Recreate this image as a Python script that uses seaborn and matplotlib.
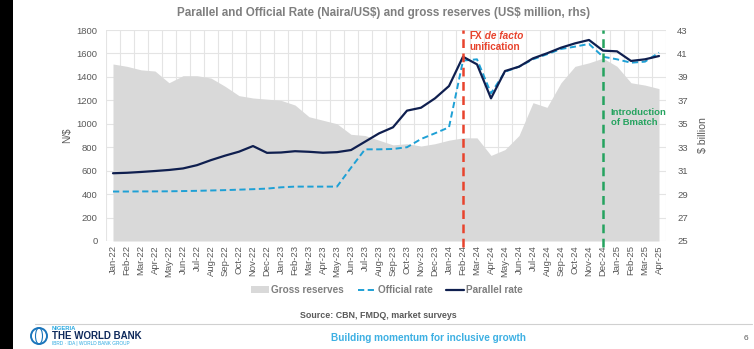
import numpy as np
import pandas as pd
import matplotlib
matplotlib.use("Agg")
import matplotlib.pyplot as plt
from matplotlib.patches import Patch, Rectangle, Ellipse
from matplotlib.lines import Line2D
import seaborn as sns

# ---- data -------------------------------------------------------------
months = ["Jan-22", "Feb-22", "Mar-22", "Apr-22", "May-22", "Jun-22", "Jul-22", "Aug-22",
          "Sep-22", "Oct-22", "Nov-22", "Dec-22", "Jan-23", "Feb-23", "Mar-23", "Apr-23",
          "May-23", "Jun-23", "Jul-23", "Aug-23", "Sep-23", "Oct-23", "Nov-23", "Dec-23",
          "Jan-24", "Feb-24", "Mar-24", "Apr-24", "May-24", "Jun-24", "Jul-24", "Aug-24",
          "Sep-24", "Oct-24", "Nov-24", "Dec-24", "Jan-25", "Feb-25", "Mar-25", "Apr-25"]

parallel_rate = [578, 582, 589, 597, 606, 619, 647, 690, 728, 762, 810, 752,
                 755, 766, 761, 753, 758, 776, 847, 918, 970, 1112, 1137, 1217,
                 1322, 1572, 1507, 1217, 1450, 1487, 1558, 1601, 1649, 1686, 1715, 1624,
                 1618, 1536, 1550, 1578]

official_rate = [422, 422, 423, 423, 424, 426, 428, 431, 434, 438, 442, 447,
                 458, 464, 464, 464, 464, 625, 782, 782, 785, 800, 870, 919,
                 970, 1539, 1550, 1260, 1444, 1487, 1550, 1593, 1638, 1658, 1681, 1572,
                 1550, 1521, 1530, 1607]

gross_reserves = [40.1, 39.9, 39.6, 39.5, 38.5, 39.1, 39.1, 38.9, 38.2, 37.4, 37.2, 37.1,
                  37.0, 36.6, 35.6, 35.3, 35.0, 34.1, 34.0, 33.6, 33.2, 33.3, 33.1, 33.3,
                  33.6, 33.8, 33.8, 32.3, 32.8, 34.0, 36.8, 36.4, 38.5, 39.9, 40.2, 40.6,
                  39.9, 38.5, 38.3, 38.0]

event_months = ["Feb-24", "Dec-24"]

left_ticks = list(range(0, 1801, 200))
right_ticks = list(range(25, 44, 2))

df = pd.DataFrame({"month": months, "pos": np.arange(len(months)),
                   "Parallel rate": parallel_rate, "Official rate": official_rate,
                   "Gross reserves": gross_reserves})

# ---- style ------------------------------------------------------------
sns.set_theme(style="white")
plt.rcParams["font.family"] = ["Liberation Sans", "DejaVu Sans"]

GREY_TXT = "#595959"
TITLE_GREY = "#7f7f7f"
AREA = "#d9d9d9"
NAVY = "#0f1f4f"
CYAN = "#1ea0d5"
RED = "#e8432d"
GREEN = "#25a35f"

W, H = 754, 349
fig = plt.figure(figsize=(W / 100, H / 100), dpi=100)
fig.patch.set_facecolor("white")

def fx(px):
    return px / W

def fy(py):
    return 1 - py / H

left, right, top, bottom = 106, 666, 30, 241
ax_r = fig.add_axes([fx(left), fy(bottom), fx(right - left), (bottom - top) / H])
ax = ax_r.twinx()
ax.yaxis.tick_left()
ax.yaxis.set_label_position("left")
ax_r.yaxis.tick_right()
ax_r.yaxis.set_label_position("right")
ax.set_zorder(ax_r.get_zorder() + 1)
ax.patch.set_visible(False)

# reserves area on the right-hand scale
ax_r.fill_between(df["pos"], 25, df["Gross reserves"], color=AREA, lw=0, zorder=1)
ax_r.set_ylim(25, 43)
ax_r.set_yticks(right_ticks)
ax_r.set_axisbelow(True)

# exchange rates on the left-hand scale
sns.lineplot(data=df, x="pos", y="Parallel rate", ax=ax, color=NAVY, lw=1.6, zorder=4)
sns.lineplot(data=df, x="pos", y="Official rate", ax=ax, color=CYAN, lw=1.4,
             dashes=False, zorder=3)
ax.lines[-1].set_dashes([3.2, 1.8])
ax.set_ylim(0, 1800)
ax.set_yticks(left_ticks)

# month axis (drawn by the lower axes; the twin hides its own x axis)
ax_r.set_xlim(-0.5, len(months) - 0.9)
ax_r.set_xticks(df["pos"])
ax_r.set_xticklabels(months, rotation=90)
ax_r.set_xticks(np.arange(-0.5, len(months), 1), minor=True)
ax_r.set_xlabel("")
ax.set_xlabel("")

# grid lives on the lower axes so the area covers it
ax_r.grid(True, axis="y", which="major", color="#e4e4e4", lw=0.8)
ax_r.grid(True, axis="x", which="minor", color="#e4e4e4", lw=0.8)
ax.grid(False)

for a in (ax, ax_r):
    for s in a.spines.values():
        s.set_visible(False)
    a.tick_params(length=0, which="both", colors=GREY_TXT, labelsize=6.8, pad=2)
ax_r.tick_params(axis="x", labelbottom=True, pad=3)
ax_r.tick_params(axis="y", pad=8)
ax.tick_params(axis="y", pad=6)

ax.set_ylabel("N/$", color=GREY_TXT, fontsize=7.2)
ax.yaxis.set_label_coords(-0.061, 0.5)
ax_r.set_ylabel("$ billion", color=GREY_TXT, fontsize=7.6, labelpad=7)

# event markers
i_fx = months.index(event_months[0])
i_bm = months.index(event_months[1])
ax.axvline(i_fx, ymin=-0.03, ymax=1, color=RED, lw=1.8, dashes=(3.5, 2.2), clip_on=False, zorder=5)
ax.axvline(i_bm, ymin=-0.03, ymax=1, color=GREEN, lw=1.8, dashes=(3.5, 2.2), clip_on=False, zorder=5)

fx_txt = ax.text(i_fx + 0.45, 1745, "FX", color=RED, fontsize=7.2, fontweight="bold",
                 ha="left", va="center", zorder=6)
ax.annotate(" de facto", xy=(1, 0.5), xycoords=fx_txt, va="center", ha="left",
            color=RED, fontsize=7.2, fontweight="bold", fontstyle="italic", zorder=6)
ax.text(i_fx + 0.45, 1655, "unification", color=RED, fontsize=7.2, fontweight="bold",
        ha="left", va="center", zorder=6)
ax.text(i_bm + 0.55, 1055, "Introduction\nof Bmatch", color=GREEN, fontsize=6.8,
        fontweight="bold", ha="left", va="center", linespacing=1.2, zorder=6)

# title
fig.text(fx(384), fy(13), "Parallel and Official Rate (Naira/US\\$) and gross reserves (US\\$ million, rhs)",
         ha="center", va="center", color=TITLE_GREY, fontsize=8.4, fontweight="bold")

# legend
handles = [Patch(facecolor=AREA, edgecolor="none"),
           Line2D([], [], color=CYAN, lw=1.4, dashes=[3.2, 1.8]),
           Line2D([], [], color=NAVY, lw=1.6)]
labels = ["Gross reserves", "Official rate", "Parallel rate"]
leg = fig.legend(handles, labels, loc="center", bbox_to_anchor=(fx(387), fy(290)), ncol=3,
                 frameon=False, fontsize=7.2, handlelength=1.8, handleheight=0.6,
                 handletextpad=0.2, columnspacing=1.4)
for t in leg.get_texts():
    t.set_color(TITLE_GREY)
    t.set_fontweight("bold")

# source line and footer
fig.text(fx(378), fy(315), "Source: CBN, FMDQ, market surveys", ha="center", va="center",
         color=GREY_TXT, fontsize=6.4, fontweight="bold")
fig.add_artist(Line2D([fx(35), fx(752)], [fy(324), fy(324)], color="#d0d0d0", lw=0.8))
fig.text(fx(428), fy(338), "Building momentum for inclusive growth", ha="center", va="center",
         color="#3db0e3", fontsize=7.2, fontweight="bold")
fig.text(fx(746), fy(339), "6", ha="center", va="center", color=GREY_TXT, fontsize=6)

# left edge band
fig.add_artist(Rectangle((0, 0), fx(13), 1, transform=fig.transFigure, color="black", lw=0))

# World Bank mark
fig.add_artist(Ellipse((fx(39), fy(336)), fx(16), 16 / H, transform=fig.transFigure,
                       facecolor="white", edgecolor="#1b75bb", lw=1.4))
fig.add_artist(Ellipse((fx(39), fy(336)), fx(7), 16 / H, transform=fig.transFigure,
                       facecolor="none", edgecolor="#1b75bb", lw=0.8))
fig.text(fx(52), fy(328), "NIGERIA", color="#29a8e0", fontsize=4.2, fontweight="bold",
         ha="left", va="center")
fig.text(fx(52), fy(336), "THE WORLD BANK", color="#0f2a5c", fontsize=7, fontweight="bold",
         ha="left", va="center")
fig.text(fx(52), fy(344), "IBRD \u00b7 IDA | WORLD BANK GROUP", color="#29a8e0", fontsize=3.4,
         ha="left", va="center")

fig.savefig("out.png", dpi=100, facecolor="white")
